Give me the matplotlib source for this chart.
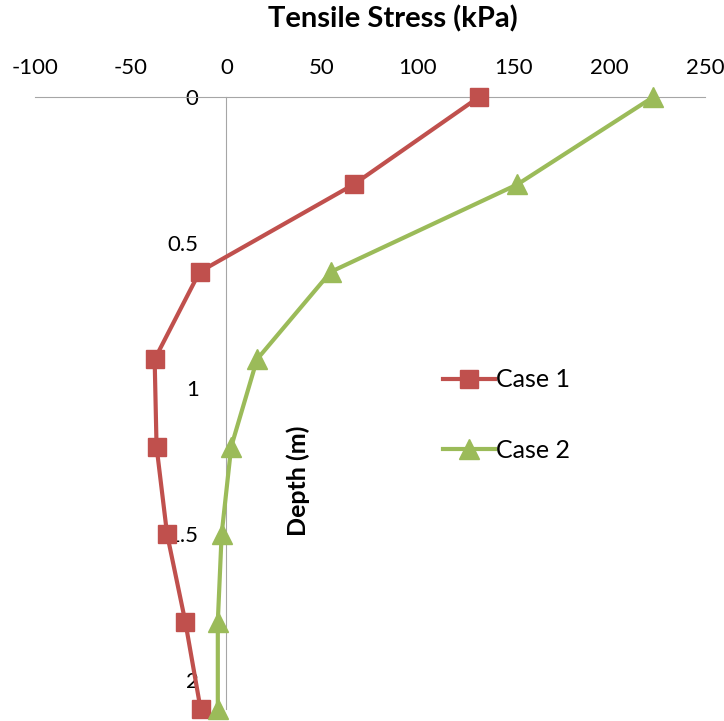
import numpy as np
import matplotlib.pyplot as plt

plt.rcParams['font.family'] = ['Lato', 'DejaVu Sans']
plt.rcParams['axes.unicode_minus'] = False

depth = [0.0, 0.3, 0.6, 0.9, 1.2, 1.5, 1.8, 2.1]
case1 = [132, 66.5, -14, -37.5, -36.5, -31, -21.5, -13.5]
case2 = [223, 152, 54.5, 16, 2.5, -2.5, -4.5, -4.5]
x_ticks = [-100, -50, 0, 50, 100, 150, 200, 250]
y_ticks = [0, 0.5, 1, 1.5, 2]

fig = plt.figure(figsize=(7.24, 7.21), dpi=100)
ax = fig.add_axes([35 / 724, 1 - 709 / 721, 670 / 724, 612 / 721])

ax.plot(case1, depth, color='#C0504D', lw=3, marker='s', markersize=13,
        label='Case 1', clip_on=False, zorder=3)
ax.plot(case2, depth, color='#9BBB59', lw=3, marker='^', markersize=14,
        label='Case 2', clip_on=False, zorder=3)

ax.set_xlim(-100, 250)
ax.set_ylim(2.1, 0)
ax.set_xticks(x_ticks)
ax.set_yticks(y_ticks)
ax.set_yticklabels(['0', '0.5', '1', '1.5', '2'])

for s in ['right', 'bottom']:
    ax.spines[s].set_visible(False)
ax.spines['left'].set_position(('data', 0))
ax.spines['left'].set_color('#A6A6A6')
ax.spines['top'].set_color('#A6A6A6')
ax.spines['left'].set_zorder(1)
ax.xaxis.tick_top()
ax.tick_params(axis='x', length=0, pad=14, labelsize=16)
ax.tick_params(axis='y', length=0, pad=20, labelsize=16)

fig.text(393 / 724, 1 - 19 / 721, 'Tensile Stress (kPa)', ha='center', va='center',
         fontsize=21, fontweight='bold')
fig.text(298 / 724, 1 - 481 / 721, 'Depth (m)', ha='center', va='center',
         rotation=90, fontsize=18, fontweight='bold')

ax.legend(loc='center left', bbox_to_anchor=(0.575, 0.48), frameon=False,
          fontsize=18, handlelength=2.1, handletextpad=0.05, labelspacing=1.9)

fig.savefig('out.png', dpi=100)
